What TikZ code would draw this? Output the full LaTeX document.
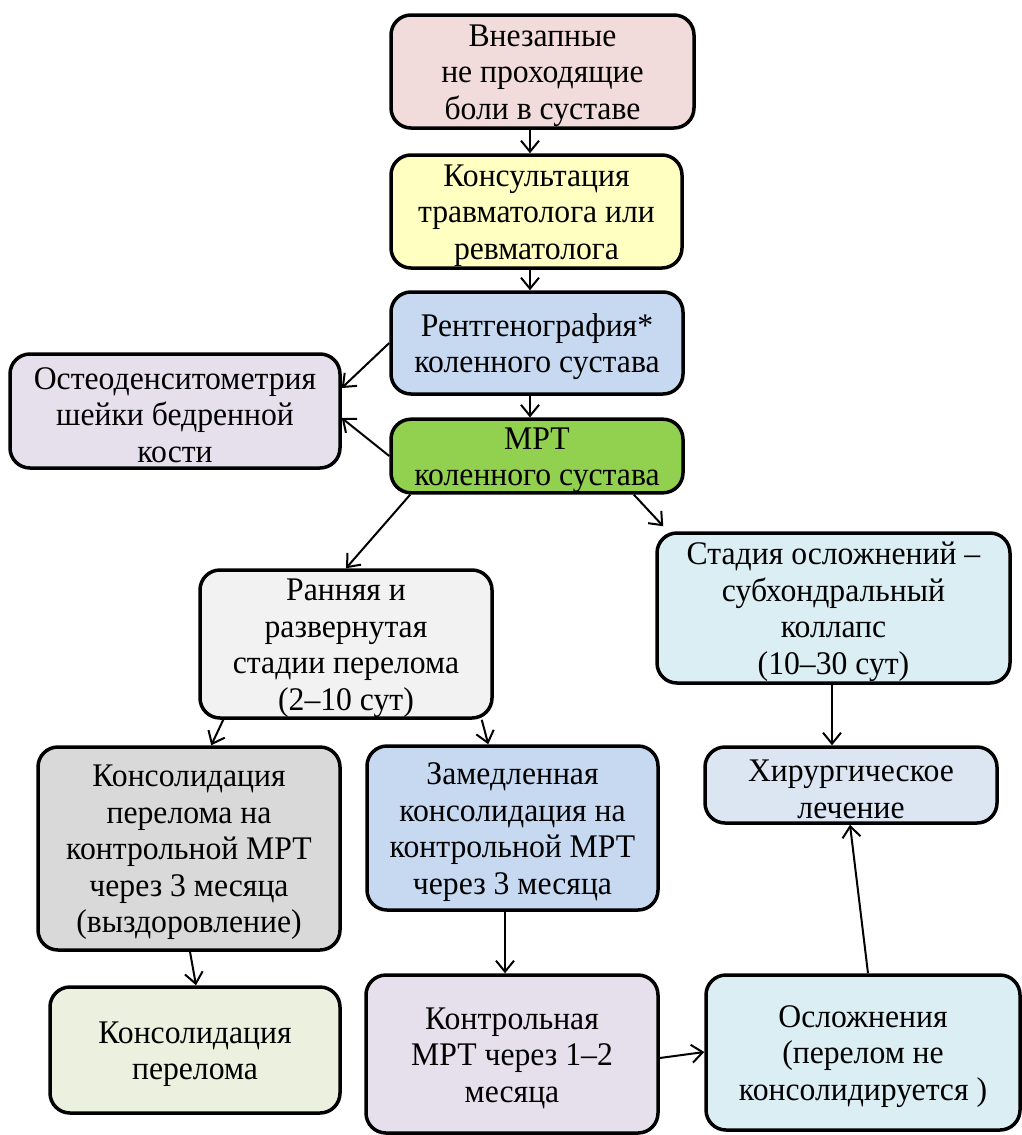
\documentclass[tikz,border=0pt]{standalone}
\usepackage{fontspec}
\setmainfont{Liberation Serif}[FakeStretch=0.96]
\usetikzlibrary{arrows.meta,calc}
\definecolor{cA}{HTML}{F2DCDB}
\definecolor{cB}{HTML}{FFFFC1}
\definecolor{cC}{HTML}{C6D9F1}
\definecolor{cD}{HTML}{E5E0EC}
\definecolor{cE}{HTML}{92D050}
\definecolor{cF}{HTML}{F2F2F2}
\definecolor{cG}{HTML}{DBEEF4}
\definecolor{cH}{HTML}{D9D9D9}
\definecolor{cJ}{HTML}{DCE6F2}
\definecolor{cK}{HTML}{EBF1DE}
\newcommand\Tst{\rule{0pt}{30pt}}
\begin{document}
\begin{tikzpicture}[x=1pt,y=-1pt,
  box/.style={draw=black, line width=3.5pt, rounded corners=20pt, inner sep=0pt, align=center,
    font=\fontsize{33}{36.5}\selectfont},
  arr/.style={line width=2pt, -{Straight Barb[length=11pt,width=18pt,line width=2pt]}}]
\useasboundingbox (0,0) rectangle (1022,1135);
\node[box, fill=cA, minimum width=303, minimum height=113] (a) at (542.5,71.5) {\Tst Внезапные\\не проходящие\\боли в суставе};
\node[box, fill=cB, minimum width=291, minimum height=113] (b) at (536.5,211.5) {\Tst Консультация\\травматолога или\\ревматолога};
\node[box, fill=cC, minimum width=292, minimum height=102] (c) at (537,343) {\Tst Рентгенография*\\коленного сустава};
\node[box, fill=cD, minimum width=330, minimum height=114] (d) at (175,411) {\Tst Остеоденситометрия\\шейки бедренной\\кости};
\node[box, fill=cE, minimum width=292, minimum height=72] (e) at (537,456) {\Tst МРТ\\коленного сустава};
\node[box, fill=cF, minimum width=292, minimum height=148] (f) at (346,644) {\Tst Ранняя и\\развернутая\\стадии перелома\\(2–10 сут)};
\node[box, fill=cG, minimum width=353, minimum height=150] (g) at (833.5,608) {\Tst Стадия осложнений –\\субхондральный\\коллапс\\(10–30 сут)};
\node[box, fill=cH, minimum width=302, minimum height=203] (h) at (189,848.5) {\Tst Консолидация\\перелома на\\контрольной МРТ\\через 3 месяца\\(выздоровление)};
\node[box, fill=cC, minimum width=291, minimum height=164] (i) at (512.5,828) {\Tst Замедленная\\консолидация на\\контрольной МРТ\\через 3 месяца};
\node[box, fill=cJ, minimum width=292, minimum height=76] (j) at (851,785) {\Tst Хирургическое\\лечение};
\node[box, fill=cK, minimum width=290, minimum height=126] (k) at (195,1050) {\Tst Консолидация\\перелома};
\node[box, fill=cD, minimum width=292, minimum height=158] (l) at (512,1054) {\Tst Контрольная\\МРТ через 1–2\\месяца};
\node[box, fill=cG, minimum width=314, minimum height=155] (m) at (863,1052.5) {\Tst Осложнения\\(перелом не\\консолидируется )};
\draw[arr] ($(a.south)+(-12.5,0)$) -- ($(b.north)+(-6.5,0)$);
\draw[arr] ($(b.south)+(-6.5,0)$) -- ($(c.north)+(-7,0)$);
\draw[arr] (c.west) -- ($(d.east)+(0,-23)$);
\draw[arr] (e.west) -- ($(d.east)+(0,7)$);
\draw[arr] ($(c.south)+(-7,0)$) -- ($(e.north)+(-7,0)$);
\draw[arr] ($(e.south west)+(21,0)$) -- (f.north);
\draw[arr] ($(e.south east)+(-51,0)$) -- ($(g.north west)+(8,-5)$);
\draw[arr] ($(f.south west)+(25,0)$) -- ($(h.north west)+(175,0)$);
\draw[arr] ($(f.south east)+(-12,0)$) -- ($(i.north west)+(123,0)$);
\draw[arr] ($(g.south)+(-1.5,0)$) -- ($(j.north)+(-19,0)$);
\draw[arr] ($(h.south)+(1,0)$) -- ($(k.north)+(1,0)$);
\draw[arr] ($(i.south)+(-7.5,0)$) -- ($(l.north)+(-7,0)$);
\draw[arr] ($(l.east)+(0,4)$) -- ($(m.west)+(0,-0.5)$);
\draw[arr] ($(m.north)+(5,0)$) -- ($(j.south)+(-1,0)$);
\end{tikzpicture}
\end{document}
